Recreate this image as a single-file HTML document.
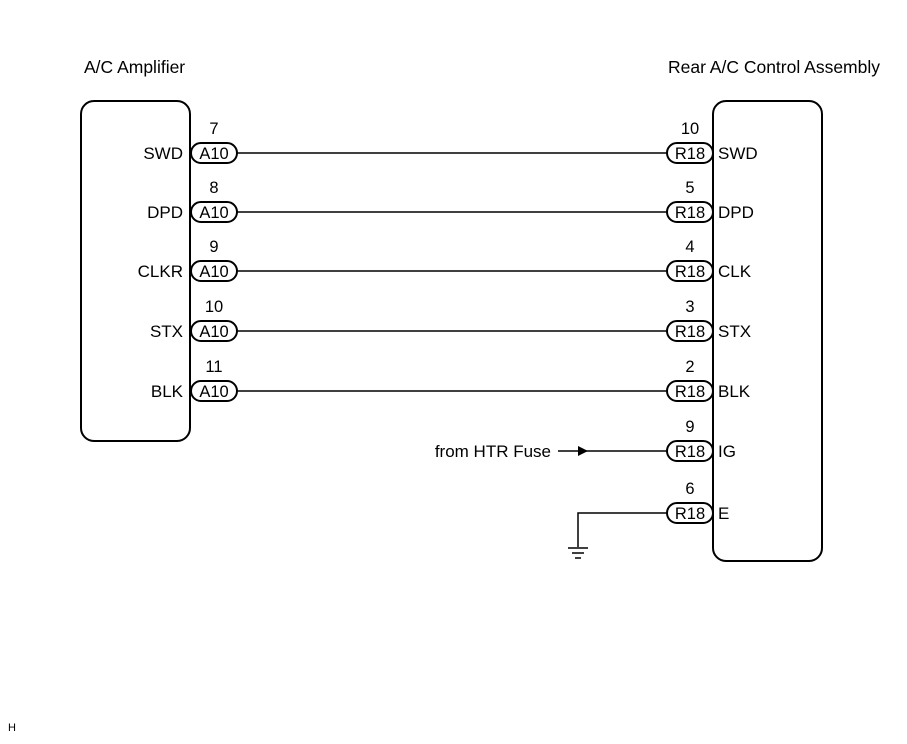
<!DOCTYPE html>
<html><head><style>
body{margin:0;background:#fff}
svg text{font-family:"Liberation Sans",sans-serif;fill:#000}
</style></head><body>
<svg width="907" height="739" viewBox="0 0 907 739" xmlns="http://www.w3.org/2000/svg">
<g font-size="17.5">
<text x="84" y="73">A/C Amplifier</text>
<text x="880" y="73" text-anchor="end">Rear A/C Control Assembly</text>
</g>
<rect x="81" y="101" width="109" height="340" rx="13" fill="none" stroke="#000" stroke-width="2"/>
<rect x="713" y="101" width="109" height="460" rx="13" fill="none" stroke="#000" stroke-width="2"/>
<g stroke="#000" stroke-width="1.5" fill="none">
<line x1="237" y1="153" x2="667" y2="153"/>
<line x1="237" y1="212" x2="667" y2="212"/>
<line x1="237" y1="271" x2="667" y2="271"/>
<line x1="237" y1="331" x2="667" y2="331"/>
<line x1="237" y1="391" x2="667" y2="391"/>
<line x1="558" y1="451" x2="667" y2="451"/>
<polyline points="667,513 578,513 578,547"/>
<line x1="568" y1="548" x2="588" y2="548"/>
<line x1="572" y1="553" x2="584" y2="553"/>
<line x1="575" y1="558" x2="581" y2="558"/>
</g>
<polygon points="578,446 588,451 578,456" fill="#000"/>
<g fill="#fff" stroke="#000" stroke-width="2">
<rect x="191" y="143" width="46" height="20" rx="10"/>
<rect x="191" y="202" width="46" height="20" rx="10"/>
<rect x="191" y="261" width="46" height="20" rx="10"/>
<rect x="191" y="321" width="46" height="20" rx="10"/>
<rect x="191" y="381" width="46" height="20" rx="10"/>
<rect x="667" y="143" width="46" height="20" rx="10"/>
<rect x="667" y="202" width="46" height="20" rx="10"/>
<rect x="667" y="261" width="46" height="20" rx="10"/>
<rect x="667" y="321" width="46" height="20" rx="10"/>
<rect x="667" y="381" width="46" height="20" rx="10"/>
<rect x="667" y="441" width="46" height="20" rx="10"/>
<rect x="667" y="503" width="46" height="20" rx="10"/>
</g>
<g font-size="16.5" text-anchor="middle">
<text x="214" y="159">A10</text><text x="214" y="218">A10</text><text x="214" y="277">A10</text><text x="214" y="337">A10</text><text x="214" y="397">A10</text>
<text x="690" y="159">R18</text><text x="690" y="218">R18</text><text x="690" y="277">R18</text><text x="690" y="337">R18</text><text x="690" y="397">R18</text><text x="690" y="457">R18</text><text x="690" y="519">R18</text>
<text x="214" y="134">7</text><text x="214" y="193">8</text><text x="214" y="252">9</text><text x="214" y="312">10</text><text x="214" y="372">11</text>
<text x="690" y="134">10</text><text x="690" y="193">5</text><text x="690" y="252">4</text><text x="690" y="312">3</text><text x="690" y="372">2</text><text x="690" y="432">9</text><text x="690" y="494">6</text>
</g>
<g font-size="17" text-anchor="end">
<text x="183" y="159">SWD</text><text x="183" y="218">DPD</text><text x="183" y="277">CLKR</text><text x="183" y="337">STX</text><text x="183" y="397">BLK</text>
<text x="551" y="457">from HTR Fuse</text>
</g>
<g font-size="17">
<text x="718" y="159">SWD</text><text x="718" y="218">DPD</text><text x="718" y="277">CLK</text><text x="718" y="337">STX</text><text x="718" y="397">BLK</text><text x="718" y="457">IG</text><text x="718" y="519">E</text>
</g>
<text x="8" y="731" font-size="11">H</text>
</svg>
</body></html>
